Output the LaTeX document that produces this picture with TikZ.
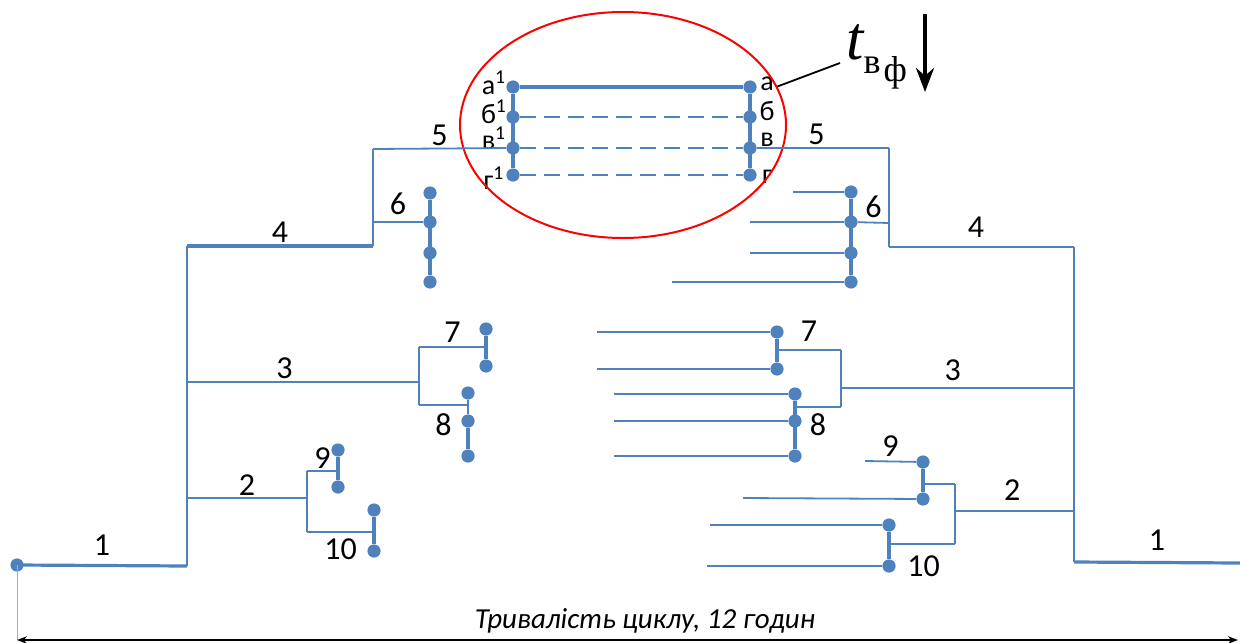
\documentclass[tikz,border=0pt]{standalone}
\usepackage{fontspec}
\setmainfont{Liberation Serif}
\setsansfont{Carlito}
\usetikzlibrary{arrows.meta,calc,shapes.geometric}
\definecolor{ganttblue}{HTML}{4F81BD}
\tikzset{
  ln/.style={ganttblue, line width=0.9pt},
  thk/.style={ganttblue, line width=1.6pt},
  dot/.style={circle, fill=ganttblue, inner sep=0pt, minimum size=6.6pt},
  num/.style={text=black, font=\sffamily\fontsize{16}{16}\selectfont, inner sep=1pt},
  ptl/.style={num, font=\sffamily\fontsize{14}{14}\selectfont, inner sep=0pt},
  dsh/.style={ganttblue, line width=1.4pt, dash pattern=on 8pt off 4pt},
}

\begin{document}
\begin{tikzpicture}[>=Stealth, x=0.5pt, y=-0.5pt]
  \useasboundingbox (0,0) rectangle (1240,642);

  % вузол розриву: точки а..г з обох боків
  \foreach \n/\y in {a/87,b/117,v/148,g/175} {
    \node[dot] (l\n) at (513,\y) {};
    \node[dot] (r\n) at (750,\y) {};
  }
  \draw[thk] (la) -- (lg);
  \draw[thk] (ra) -- (rg);
  \draw[thk] (la) -- (ra);
  \draw[dsh] (lb) -- (rb);
  \draw[dsh] (lv) -- (rv);
  \draw[dsh] (lg) -- (rg);
  \node[ptl] at (494,83)  {а\textsuperscript{1}};
  \node[ptl] at (494,112) {б\textsuperscript{1}};
  \node[ptl] at (494,138) {в\textsuperscript{1}};
  \node[ptl] at (494,178) {г\textsuperscript{1}};
  \node[ptl] at (767,84)  {а};
  \node[ptl] at (767,111) {б};
  \node[ptl] at (767,140) {в};
  \node[ptl] at (767,177) {г};

  % червоний овал і позначка t_вф
  \node[draw=red, line width=1pt, ellipse, minimum width=163pt, minimum height=113pt] (oval) at (623,125) {};
  \node[anchor=base west, inner sep=0pt] (tvf) at (846,60)
    {\fontsize{31}{31}\selectfont\itshape t\upshape\fontsize{18}{18}\selectfont\raisebox{-7pt}{в\kern1.5pt\raisebox{-4pt}{ф}}};
  \coordinate (tend) at (840,63);
  \draw[line width=0.9pt] (oval.14) -- (tend);
  \coordinate (dn1) at (925,14);
  \coordinate (dn2) at (925,92);
  \draw[->, line width=2pt] (dn1) -- (dn2);

  % ліва половина
  \node[dot] (start) at (17,565) {};
  \coordinate (L1) at (187,566);
  \coordinate (L4a) at (187,246);
  \coordinate (L4b) at (373,246);
  \coordinate (L5) at (373,149);
  \coordinate (L6) at (373,222);
  \coordinate (L3) at (187,382);
  \coordinate (L2) at (187,498);
  \draw[thk] (start.center) -- (L1) node[num, midway, above=3pt] {1};
  \draw[ln] (L1) -- (L4a);
  \draw[thk] (L4a) -- (L4b) node[num, midway, above] {4};
  \draw[ln] (L4b) -- (L5);
  \draw[ln] (L5) -- (lv) node[num, midway, above] {5};
  % 6
  \foreach \y [count=\i] in {193,222,253,282} \node[dot] (ls\i) at (430,\y) {};
  \draw[thk] (ls1) -- (ls4);
  \draw[ln] (L6) -- (ls2) node[num, midway, above=2pt] {6};
  % 3, 7, 8
  \coordinate (L3b) at (419,382);
  \coordinate (L7) at (419,347);
  \coordinate (L8) at (419,405);
  \node[dot] (l71) at (486,329) {};
  \node[dot] (l72) at (486,366) {};
  \foreach \y [count=\i] in {393,421,456} \node[dot] (l8\i) at (468,\y) {};
  \coordinate (l8j) at (468,405);
  \coordinate (l7j) at (486,347);
  \draw[ln] (L3) -- (L3b) node[num, pos=0.42, above] {3};
  \draw[ln] (L7) -- (L8);
  \draw[ln] (L7) -- (l7j) node[num, midway, above=1pt] {7};
  \draw[ln] (L8) -- (l8j) node[num, midway, below=3pt] {8};
  \draw[thk] (l71) -- (l72);
  \draw[ln] (l81) -- (l82);
  \draw[thk] (l82) -- (l83);
  % 2, 9, 10
  \coordinate (L2b) at (307,498);
  \coordinate (L9) at (307,471);
  \coordinate (L10) at (307,532);
  \node[dot] (l91) at (338,450) {};
  \node[dot] (l92) at (338,487) {};
  \node[dot] (l101) at (374,510) {};
  \node[dot] (l102) at (374,551) {};
  \coordinate (l9j) at (338,471);
  \coordinate (l10j) at (374,532);
  \draw[ln] (L2) -- (L2b) node[num, midway, above] {2};
  \draw[ln] (L9) -- (L10);
  \draw[ln] (L9) -- (l9j) node[num, midway, above=0pt] {9};
  \draw[ln] (L10) -- (l10j) node[num, midway, below=2pt] {10};
  \draw[thk] (l91) -- (l92);
  \draw[thk] (l101) -- (l102);

  % права половина
  \coordinate (R5) at (889,148);
  \coordinate (R6) at (889,223);
  \coordinate (R4a) at (889,247);
  \coordinate (R4b) at (1074,247);
  \coordinate (R3) at (1074,388);
  \coordinate (R2) at (1074,511);
  \coordinate (R1a) at (1074,562);
  \coordinate (R1b) at (1240,563);
  \draw[ln] (rv) -- (R5) node[num, pos=0.45, above] {5};
  \draw[ln] (R5) -- (R4a);
  \draw[ln, line width=1.2pt] (R4a) -- (R4b) node[num, pos=0.47, above=3pt] {4};
  \draw[ln] (R4b) -- (R1a);
  \draw[thk] (R1a) -- (R1b) node[num, midway, above=4pt] {1};
  % 6
  \foreach \y/\x [count=\i] in {192/793,222/750,253/750,282/672} {
    \node[dot] (rs\i) at (851,\y) {};
    \coordinate (rsin\i) at (\x,\y);
    \draw[ln] (rsin\i) -- (rs\i);
  }
  \draw[thk] (rs1) -- (rs4);
  \draw[ln] (rs2) -- (R6) node[num, midway, above=1pt] {6};
  % 3, 7, 8
  \coordinate (R3b) at (841,388);
  \coordinate (R7) at (841,350);
  \coordinate (R8) at (841,407);
  \coordinate (r7j) at (777,350);
  \coordinate (r8j) at (795,407);
  \foreach \y [count=\i] in {332,369} {
    \node[dot] (r7\i) at (777,\y) {};
    \coordinate (r7in\i) at (597,\y);
    \draw[ln] (r7in\i) -- (r7\i);
  }
  \foreach \y [count=\i] in {394,421,456} {
    \node[dot] (r8\i) at (795,\y) {};
    \coordinate (r8in\i) at (614,\y);
    \draw[ln] (r8in\i) -- (r8\i);
  }
  \draw[thk] (r71) -- (r72);
  \draw[thk] (r81) -- (r83);
  \draw[ln] (R3b) -- (R3) node[num, pos=0.48, above=2pt] {3};
  \draw[ln] (R7) -- (R8);
  \draw[ln] (r7j) -- (R7) node[num, midway, above=3pt] {7};
  \draw[ln] (r8j) -- (R8) node[num, midway, below=2pt] {8};
  % 2, 9, 10
  \coordinate (R2b) at (955,511);
  \coordinate (R9) at (955,484);
  \coordinate (R10) at (955,544);
  \coordinate (r9j) at (923,484);
  \coordinate (r10j) at (889,544);
  \node[dot] (r91) at (923,462) {};
  \node[dot] (r92) at (923,499) {};
  \node[dot] (r101) at (889,525) {};
  \node[dot] (r102) at (889,566) {};
  \coordinate (r9in1) at (865,461);
  \coordinate (r9in2) at (743,498);
  \coordinate (r10in1) at (710,525);
  \coordinate (r10in2) at (707,566);
  \draw[ln] (r9in1) -- (r91) node[num, midway, above=1pt] {9};
  \draw[ln] (r9in2) -- (r92);
  \draw[ln] (r10in1) -- (r101);
  \draw[ln] (r10in2) -- (r102);
  \draw[thk] (r91) -- (r92);
  \draw[thk] (r101) -- (r102);
  \draw[ln] (R2b) -- (R2) node[num, pos=0.48, above=4pt] {2};
  \draw[ln] (R9) -- (R10);
  \draw[ln] (r9j) -- (R9);
  \draw[ln] (r10j) -- (R10);
  \node[num, right=8pt] at (r102) {10};

  % тривалість циклу
  \coordinate (arL) at (17,640);
  \coordinate (arR) at (1238,640);
  \draw[ganttblue!60, line width=0.5pt] (start.center) -- (arL);
  \draw[{Stealth[length=5pt]}-{Stealth[length=5pt]}, line width=1.2pt] (arL) -- (arR);
  \node[num, font=\sffamily\itshape\fontsize{14.5}{14.5}\selectfont] (cycle) at (645,621) {Тривалість циклу, 12 годин};
\end{tikzpicture}
\end{document}
